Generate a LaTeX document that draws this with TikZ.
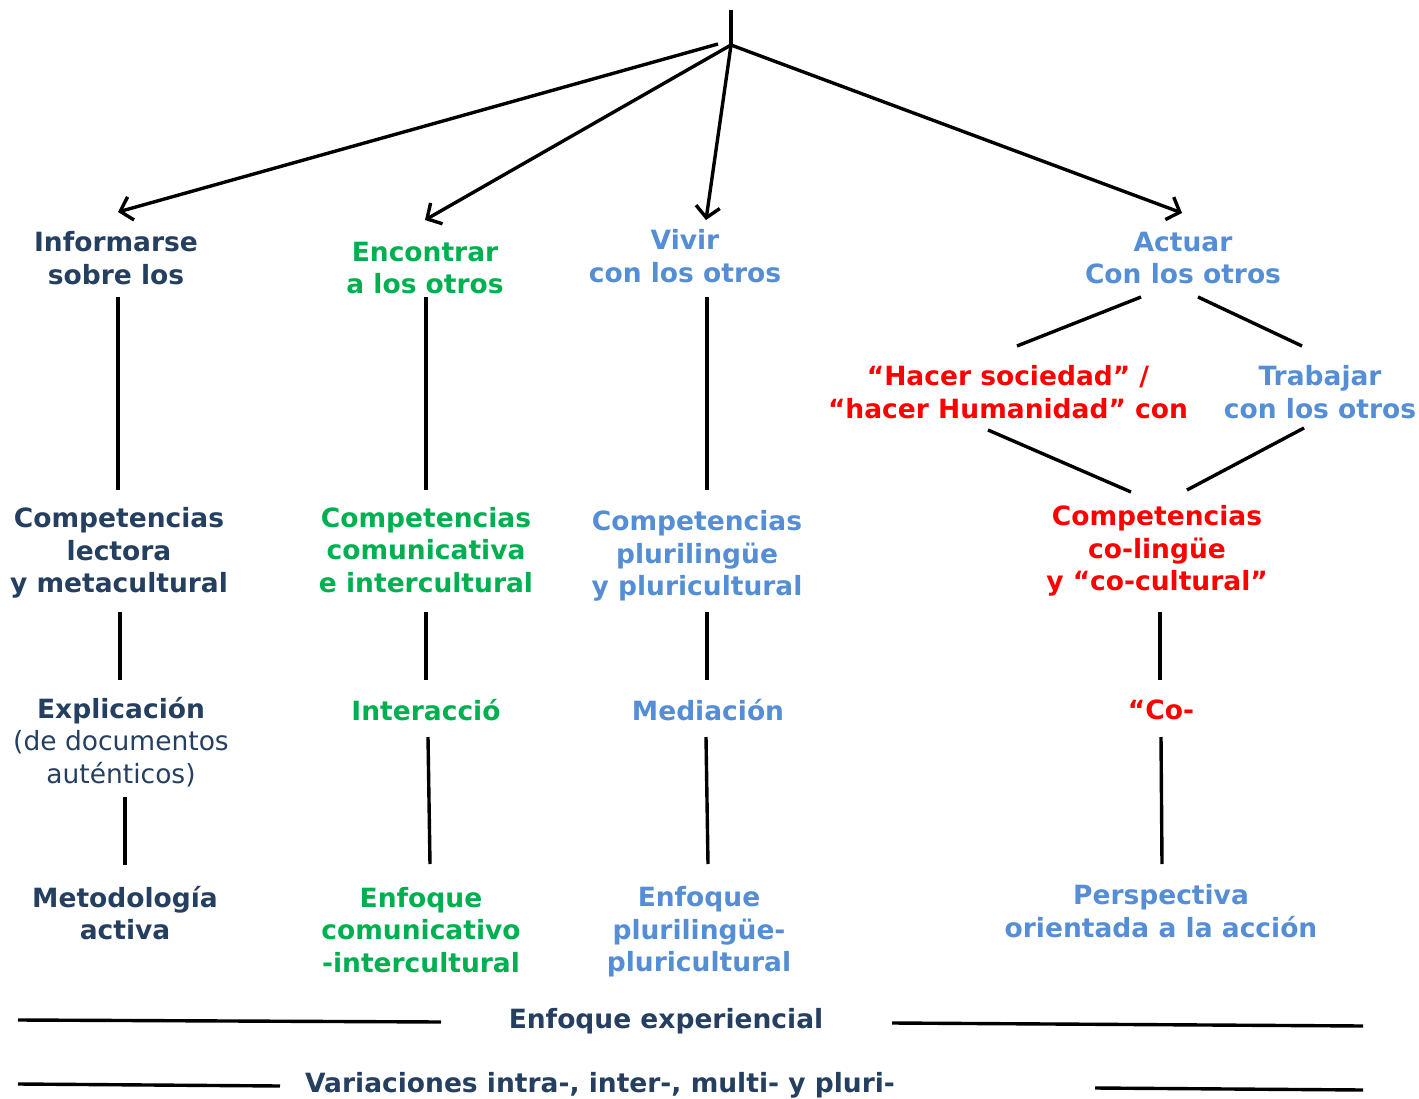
\documentclass[tikz,border=0pt]{standalone}
\usepackage{fontspec}
\setmainfont{DejaVu Sans}
\usetikzlibrary{arrows.meta}
\definecolor{navy}{HTML}{243F60}
\definecolor{grn}{HTML}{00B050}
\definecolor{blu}{HTML}{558ED5}
\definecolor{rd}{HTML}{FF0000}
\begin{document}
\begin{tikzpicture}[x=1pt,y=-1pt,
  lbl/.style={align=center,inner sep=0pt,font=\bfseries\fontsize{26.5}{32.5}\selectfont},
  ln/.style={line width=3.4pt},
  arr/.style={line width=3.4pt,-{Straight Barb[length=11pt,width=24pt,line width=3.4pt]}}]
\useasboundingbox (0,0) rectangle (1419,1099);
% hub
\coordinate (top) at (731,10);
\coordinate (hub) at (731,45);
% nodes
\node[lbl,text=navy] (info) at (116,258) {Informarse\\sobre los};
\node[lbl,text=grn] (enc) at (425,268) {Encontrar\\a los otros};
\node[lbl,text=blu] (vivir) at (685,256) {Vivir\\con los otros};
\node[lbl,text=blu] (actuar) at (1183,258) {Actuar\\Con los otros};
\node[lbl,text=rd] (hacer) at (1008,392) {“Hacer sociedad” /\\“hacer Humanidad” con};
\node[lbl,text=blu] (trab) at (1320,392) {Trabajar\\con los otros};
\node[lbl,text=navy] (comp1) at (119,553) {Competencias\\lectora\\y metacultural};
\node[lbl,text=grn] (comp2) at (426,550) {Competencias\\comunicativa\\e intercultural};
\node[lbl,text=blu] (comp3) at (697,556) {Competencias\\plurilingüe\\y pluricultural};
\node[lbl,text=rd] (comp4) at (1157,551) {Competencias\\co-lingüe\\y “co-cultural”};
\node[lbl,text=navy] (expl) at (121,742) {Explicación\\\mdseries(de documentos\\\mdseries auténticos)};
\node[lbl,text=grn] (inter) at (426,710) {Interacció};
\node[lbl,text=blu] (med) at (708,710) {Mediación};
\node[lbl,text=rd] (co) at (1161,710) {“Co-};
\node[lbl,text=navy] (met) at (125,913) {Metodología\\activa};
\node[lbl,text=grn] (enf2) at (421,930) {Enfoque\\comunicativo\\-intercultural};
\node[lbl,text=blu] (enf3) at (699,932) {Enfoque\\plurilingüe-\\pluricultural};
\node[lbl,text=blu] (persp) at (1161,911) {Perspectiva\\orientada a la acción};
\node[lbl,text=navy] (exp) at (666,1021) {Enfoque experiencial};
\node[lbl,text=navy] (var) at (600,1085) {Variaciones intra-, inter-, multi- y pluri-};
% top arrows
\draw[ln] (top) -- (hub);
\draw[arr] ([shift={(-13,-1)}]hub) -- ([shift={(2,-46)}]info.center);
\draw[arr] (hub) -- ([shift={(0,-48)}]enc.center);
\draw[arr] (hub) -- ([shift={(21,-36)}]vivir.center);
\draw[arr] (hub) -- ([shift={(-1,-45)}]actuar.center);
% column 1
\draw[ln] ([shift={(2,39)}]info.center) -- ([shift={(-1,-63)}]comp1.center);
\draw[ln] ([shift={(1,59)}]comp1.center) -- ([shift={(-1,-62)}]expl.center);
\draw[ln] ([shift={(4,55)}]expl.center) -- ([shift={(0,-48)}]met.center);
% column 2
\draw[ln] ([shift={(1,29)}]enc.center) -- ([shift={(0,-60)}]comp2.center);
\draw[ln] ([shift={(0,62)}]comp2.center) -- ([shift={(0,-30)}]inter.center);
\draw[ln] ([shift={(2,27)}]inter.center) -- ([shift={(9,-66)}]enf2.center);
% column 3
\draw[ln] ([shift={(22,41)}]vivir.center) -- ([shift={(10,-66)}]comp3.center);
\draw[ln] ([shift={(10,56)}]comp3.center) -- ([shift={(-1,-30)}]med.center);
\draw[ln] ([shift={(-2,27)}]med.center) -- ([shift={(9,-68)}]enf3.center);
% column 4
\draw[ln] ([shift={(-42,39)}]actuar.center) -- ([shift={(9,-46)}]hacer.center);
\draw[ln] ([shift={(15,39)}]actuar.center) -- ([shift={(-18,-46)}]trab.center);
\draw[ln] ([shift={(-20,38)}]hacer.center) -- ([shift={(-26,-59)}]comp4.center);
\draw[ln] ([shift={(-16,36)}]trab.center) -- ([shift={(30,-61)}]comp4.center);
\draw[ln] ([shift={(3,61)}]comp4.center) -- ([shift={(-1,-30)}]co.center);
\draw[ln] ([shift={(0,27)}]co.center) -- ([shift={(1,-47)}]persp.center);
% bottom lines
\coordinate (b1) at (18,1020);
\coordinate (b2) at (1363,1026);
\coordinate (b3) at (18,1084);
\coordinate (b4) at (1363,1090);
\draw[ln] (b1) -- ([shift={(-225,1)}]exp.center);
\draw[ln] ([shift={(226,2)}]exp.center) -- (b2);
\draw[ln] (b3) -- ([shift={(-320,1)}]var.center);
\draw[ln] ([shift={(495,3)}]var.center) -- (b4);
\end{tikzpicture}
\end{document}
